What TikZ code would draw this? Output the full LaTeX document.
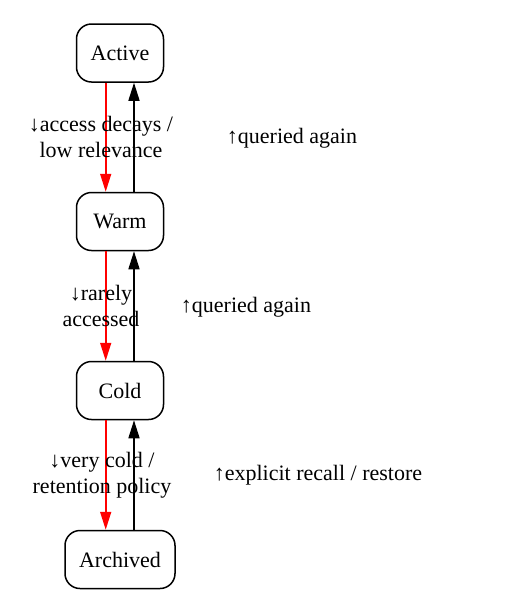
\documentclass[tikz,border=0pt]{standalone}
\usepackage{fontspec}
\setmainfont{Liberation Serif}
\newfontfamily\lserif{Liberation Serif}
\usetikzlibrary{arrows.meta}
\begin{document}
\begin{tikzpicture}[x=1pt,y=-1pt,
  statebox/.style={draw, line width=1.5pt, rounded corners=15pt, minimum height=58pt, inner sep=0pt, font=\lserif\fontsize{22}{26}\selectfont},
  lbl/.style={align=center, inner sep=0pt, font=\lserif\fontsize{22}{26}\selectfont},
  decayarrow/.style={red, line width=1.6pt, -{Triangle[width=11pt,length=18pt]}},
  recallarrow/.style={black, line width=1.6pt, -{Triangle[width=11pt,length=18pt]}}]
\useasboundingbox (0,0) rectangle (505,606);
\node[statebox, minimum width=87pt] (active) at (120,53) {Active};
\node[statebox, minimum width=87pt] (warm) at (120,221.5) {Warm};
\node[statebox, minimum width=87pt] (cold) at (120,390.5) {Cold};
\node[statebox, minimum width=110pt] (archived) at (120,559.5) {Archived};
\draw[decayarrow] ([xshift=-14.3pt]active.south) -- ([xshift=-14.3pt]warm.north);
\draw[recallarrow] ([xshift=14pt]warm.north) -- ([xshift=14pt]active.south);
\draw[decayarrow] ([xshift=-14.3pt]warm.south) -- ([xshift=-14.3pt]cold.north);
\draw[recallarrow] ([xshift=14pt]cold.north) -- ([xshift=14pt]warm.south);
\draw[decayarrow] ([xshift=-14.3pt]cold.south) -- ([xshift=-14.3pt]archived.north);
\draw[recallarrow] ([xshift=14pt]archived.north) -- ([xshift=14pt]cold.south);
\node[lbl] (l1) at (101,137) {↓access decays /\\low relevance};
\node[lbl] (l2) at (101,306) {↓rarely\\accessed};
\node[lbl] (l3) at (102,475) {↓very cold /\\retention policy};
\node[lbl] (r1) at (292,138) {↑queried again};
\node[lbl] (r2) at (246,307) {↑queried again};
\node[lbl] (r3) at (318,475) {↑explicit recall / restore};
\end{tikzpicture}
\end{document}
